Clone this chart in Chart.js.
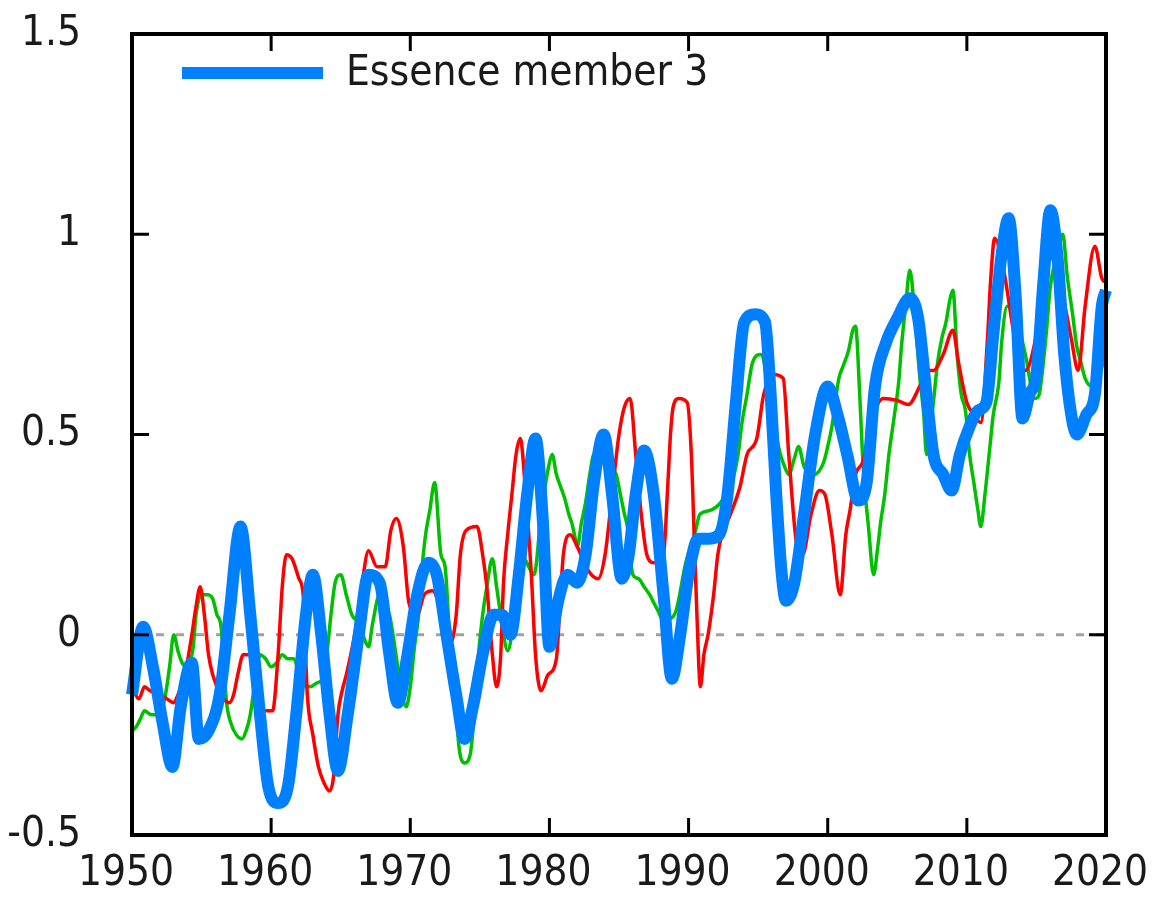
<!DOCTYPE html>
<html>
<head>
<meta charset="utf-8">
<script src="https://cdn.jsdelivr.net/npm/chart.js@4/dist/chart.umd.min.js"></script>
<style>
  html, body { margin: 0; padding: 0; background: #fff; }
  canvas { display: block; }
</style>
</head>
<body>
<canvas id="myChart" width="1158" height="907"></canvas>
<script>
// values (year, anomaly)
var blueLabel = 'Essence member 3';
var blueYears = [1950.0,1950.8,1951.5,1952.2,1952.9,1953.5,1954.3,1954.8,1955.5,1956.3,1957.0,1957.8,1958.5,1959.2,1959.8,1960.5,1961.2,1961.8,1962.5,1963.0,
  1963.6,1964.2,1964.8,1965.5,1966.3,1967.0,1967.8,1968.5,1969.1,1969.8,1970.5,1971.3,1971.9,1972.6,1973.3,1973.9,1974.5,1975.2,1976.0,1976.6,
  1977.2,1977.8,1978.4,1979.0,1979.5,1980.0,1980.6,1981.3,1982.0,1982.6,1983.2,1983.9,1984.5,1985.2,1985.7,1986.2,1986.8,1987.5,1988.2,1988.8,
  1989.4,1990.0,1990.7,1991.5,1992.2,1992.8,1993.4,1994.0,1994.8,1995.5,1995.9,1996.3,1996.7,1997.0,1997.6,1998.3,1999.1,2000.0,2000.7,2001.4,
  2002.2,2002.8,2003.4,2004.2,2005.0,2005.9,2006.5,2007.1,2007.6,2008.3,2008.9,2009.5,2010.2,2010.8,2011.4,2011.9,2012.5,2013.0,2013.5,2014.0,
  2014.5,2015.0,2015.5,2016.0,2016.5,2017.0,2017.5,2017.9,2018.6,2019.2,2019.7,2020.0];
var blueValues = [-0.15,0.02,-0.08,-0.22,-0.33,-0.18,-0.07,-0.26,-0.24,-0.15,0.05,0.27,0.05,-0.2,-0.38,-0.42,-0.38,-0.2,0.05,0.15,
  0.0,-0.2,-0.34,-0.2,0.0,0.15,0.13,-0.05,-0.17,-0.05,0.1,0.18,0.15,0.0,-0.15,-0.26,-0.18,-0.05,0.05,0.05,
  0.0,0.15,0.35,0.49,0.3,-0.03,0.08,0.15,0.13,0.2,0.38,0.5,0.35,0.14,0.2,0.35,0.46,0.35,0.1,-0.11,
  0.0,0.15,0.24,0.24,0.25,0.35,0.58,0.78,0.8,0.78,0.6,0.35,0.15,0.085,0.13,0.3,0.5,0.62,0.55,0.45,
  0.335,0.38,0.62,0.73,0.79,0.84,0.79,0.6,0.45,0.4,0.36,0.45,0.52,0.56,0.58,0.75,0.95,1.04,0.85,0.54,
  0.6,0.65,0.88,1.06,0.95,0.7,0.55,0.5,0.55,0.6,0.82,0.86];

var redYears = [1950.0,1950.5,1950.9,1951.3,1952.0,1952.5,1953.0,1953.3,1953.8,1954.3,1954.6,1954.9,1955.2,1955.5,1955.8,1956.4,1957.0,1957.3,1957.6,1958.0,
  1958.5,1959.0,1959.5,1960.1,1960.5,1960.8,1961.1,1961.5,1962.0,1962.3,1962.6,1963.0,1963.4,1963.8,1964.2,1964.5,1964.8,1965.1,1965.4,1966.0,
  1966.5,1967.0,1967.6,1968.2,1968.6,1969.0,1969.5,1969.9,1970.5,1971.0,1971.6,1972.3,1972.9,1973.3,1973.6,1974.0,1974.8,1975.2,1975.5,1975.9,
  1976.2,1976.5,1976.7,1977.0,1977.3,1977.6,1977.9,1978.3,1978.7,1979.0,1979.4,1979.9,1980.5,1980.8,1981.0,1981.5,1982.0,1982.8,1983.5,1984.0,
  1984.5,1985.0,1985.4,1985.8,1986.2,1986.6,1987.0,1987.5,1988.2,1988.5,1988.7,1988.9,1989.3,1989.9,1990.2,1990.4,1990.6,1990.85,1991.1,1991.4,
  1991.8,1992.1,1992.4,1993.0,1993.7,1994.2,1994.9,1995.4,1996.1,1996.8,1997.2,1997.8,1998.2,1998.8,1999.4,1999.8,2000.3,2000.9,2001.3,2001.6,
  2002.0,2002.5,2003.3,2004.0,2005.0,2005.8,2006.6,2007.1,2007.6,2008.3,2009.0,2009.4,2010.0,2010.5,2011.0,2011.5,2011.7,2012.0,2012.7,2013.4,
  2014.2,2015.0,2015.8,2016.4,2017.0,2017.5,2018.0,2018.5,2019.2,2019.7,2020.0];
var redValues = [-0.13,-0.16,-0.13,-0.14,-0.15,-0.16,-0.17,-0.15,-0.1,0.0,0.07,0.12,0.05,-0.05,-0.1,-0.15,-0.17,-0.15,-0.1,-0.05,
  -0.05,-0.12,-0.19,-0.19,-0.05,0.12,0.2,0.19,0.14,0.1,-0.15,-0.25,-0.33,-0.37,-0.39,-0.35,-0.2,-0.14,-0.1,0.0,
  0.12,0.21,0.17,0.17,0.26,0.29,0.22,0.08,0.05,0.1,0.11,0.05,-0.02,0.05,0.2,0.26,0.27,0.2,0.12,-0.05,
  -0.13,-0.05,0.13,0.25,0.35,0.45,0.49,0.35,0.15,-0.05,-0.14,-0.1,-0.06,0.1,0.2,0.25,0.22,0.16,0.14,0.2,
  0.35,0.5,0.57,0.59,0.45,0.3,0.2,0.18,0.2,0.37,0.5,0.57,0.59,0.58,0.45,0.25,0.05,-0.13,-0.05,0.0,
  0.1,0.2,0.25,0.3,0.37,0.45,0.49,0.6,0.65,0.64,0.45,0.22,0.2,0.3,0.36,0.35,0.25,0.1,0.25,0.31,
  0.4,0.43,0.55,0.59,0.585,0.575,0.62,0.66,0.66,0.7,0.76,0.68,0.58,0.55,0.53,0.75,0.88,0.99,0.9,0.75,
  0.66,0.75,0.95,0.92,0.83,0.74,0.66,0.82,0.97,0.89,0.88];

var greenYears = [1950.0,1950.3,1950.6,1950.9,1951.4,1952.0,1952.4,1952.7,1953.0,1953.3,1953.6,1954.0,1954.4,1954.6,1955.0,1955.4,1955.8,1956.1,1956.4,1956.8,
  1957.1,1957.5,1957.9,1958.2,1958.5,1958.9,1959.2,1959.6,1960.0,1960.4,1960.8,1961.2,1961.6,1962.2,1962.8,1963.3,1963.7,1964.0,1964.3,1964.6,
  1965.0,1965.4,1965.8,1966.3,1966.7,1967.0,1967.3,1967.8,1968.5,1969.2,1969.7,1970.0,1970.3,1970.6,1970.8,1971.1,1971.4,1971.75,1972.2,1972.5,
  1972.9,1973.2,1973.5,1973.9,1974.3,1974.6,1974.9,1975.2,1975.5,1975.9,1976.2,1976.5,1977.0,1977.5,1978.2,1978.5,1978.9,1979.4,1980.0,1980.2,
  1980.5,1980.8,1981.1,1981.4,1981.6,1981.8,1982.0,1982.3,1982.6,1982.9,1983.2,1983.8,1984.4,1984.8,1985.1,1985.4,1985.6,1986.0,1986.4,1986.8,
  1987.2,1987.5,1987.8,1988.1,1988.6,1989.1,1989.8,1990.5,1990.8,1991.5,1992.3,1993.1,1993.4,1993.6,1993.8,1994.2,1994.6,1995.2,1995.7,1996.0,
  1996.3,1996.6,1996.9,1997.2,1997.6,1997.9,1998.3,1999.0,1999.7,2000.0,2000.3,2000.8,2001.1,2001.5,2001.8,2002.0,2002.3,2002.5,2002.7,2002.9,
  2003.3,2003.6,2003.8,2004.1,2004.4,2004.8,2005.1,2005.3,2005.6,2005.9,2006.3,2006.6,2006.9,2007.1,2007.5,2007.9,2008.2,2008.5,2008.8,2009.0,
  2009.3,2009.6,2009.9,2010.2,2010.5,2010.8,2011.0,2011.3,2011.6,2011.9,2012.3,2012.5,2012.9,2013.5,2014.2,2014.9,2015.2,2015.4,2015.7,2016.0,
  2016.5,2016.9,2017.2,2017.6,2017.9,2018.2,2018.5,2019.0,2019.5,2020.0];
var greenValues = [-0.24,-0.23,-0.21,-0.19,-0.2,-0.2,-0.15,-0.08,0.0,-0.04,-0.07,-0.08,-0.03,0.05,0.1,0.1,0.09,0.05,0.02,-0.17,
  -0.22,-0.25,-0.26,-0.24,-0.2,-0.1,-0.05,-0.06,-0.08,-0.07,-0.05,-0.06,-0.06,-0.12,-0.13,-0.12,-0.11,-0.05,0.05,0.13,
  0.15,0.1,0.05,0.03,-0.01,-0.03,0.03,0.1,0.05,-0.1,-0.18,-0.13,-0.03,0.05,0.15,0.25,0.31,0.38,0.2,0.17,
  -0.05,-0.14,-0.28,-0.32,-0.3,-0.2,-0.05,0.05,0.12,0.19,0.12,0.05,-0.04,0.05,0.19,0.17,0.15,0.3,0.43,0.45,
  0.4,0.37,0.34,0.3,0.28,0.25,0.22,0.28,0.33,0.4,0.45,0.45,0.42,0.4,0.35,0.3,0.27,0.15,0.14,0.12,
  0.1,0.08,0.06,0.04,0.04,0.06,0.18,0.26,0.3,0.31,0.33,0.38,0.42,0.46,0.52,0.6,0.68,0.7,0.63,0.57,
  0.5,0.45,0.42,0.4,0.44,0.47,0.42,0.4,0.43,0.47,0.52,0.64,0.67,0.71,0.76,0.77,0.6,0.45,0.35,0.28,
  0.15,0.22,0.28,0.35,0.45,0.55,0.63,0.72,0.82,0.91,0.78,0.65,0.55,0.45,0.55,0.68,0.74,0.78,0.84,0.86,
  0.7,0.6,0.56,0.45,0.38,0.31,0.27,0.35,0.45,0.55,0.63,0.73,0.82,0.8,0.7,0.59,0.6,0.65,0.75,0.87,
  0.95,1.0,0.9,0.8,0.72,0.68,0.64,0.62,0.65,0.7];

var xTicks = [1950, 1960, 1970, 1980, 1990, 2000, 2010, 2020];
var yTicks = [-0.5, 0, 0.5, 1, 1.5];

var blueColor = '#0080ff';
var redColor = '#ff0000';
var greenColor = '#00c000';
var textColor = '#1a1a1a';
var fontFamily = "'Liberation Sans Narrow', 'DejaVu Sans Condensed', 'Liberation Sans', sans-serif";

function pairs(xs, ys) {
  return xs.map(function (x, i) { return { x: x, y: ys[i] }; });
}

// zero line, frame with inward ticks and the one-entry key
var framePlugin = {
  id: 'frame',
  beforeDatasetsDraw: function (chart) {
    var ctx = chart.ctx, a = chart.chartArea;
    var y0 = chart.scales.y.getPixelForValue(0);
    ctx.save();
    ctx.strokeStyle = '#a0a0a0';
    ctx.lineWidth = 3;
    ctx.setLineDash([8, 12]);
    ctx.beginPath();
    ctx.moveTo(a.left + 4, y0);
    ctx.lineTo(a.right, y0);
    ctx.stroke();
    ctx.restore();
  },
  afterDatasetsDraw: function (chart) {
    var ctx = chart.ctx, a = chart.chartArea;
    var xs = chart.scales.x, ys = chart.scales.y;
    ctx.save();
    ctx.strokeStyle = '#000';
    ctx.lineWidth = 3;
    ctx.beginPath();
    xTicks.forEach(function (v) {
      var px = xs.getPixelForValue(v);
      ctx.moveTo(px, a.bottom); ctx.lineTo(px, a.bottom - 17);
      ctx.moveTo(px, a.top); ctx.lineTo(px, a.top + 17);
    });
    yTicks.forEach(function (v) {
      var py = ys.getPixelForValue(v);
      ctx.moveTo(a.left, py); ctx.lineTo(a.left + 17, py);
      ctx.moveTo(a.right, py); ctx.lineTo(a.right - 17, py);
    });
    ctx.stroke();
    ctx.lineWidth = 4;
    ctx.strokeRect(a.left, a.top, a.right - a.left, a.bottom - a.top);

    // key
    var ds = chart.data.datasets[0];
    ctx.strokeStyle = ds.borderColor;
    ctx.lineWidth = 12;
    ctx.beginPath();
    ctx.moveTo(a.left + 50, a.top + 39);
    ctx.lineTo(a.left + 191, a.top + 39);
    ctx.stroke();
    ctx.fillStyle = textColor;
    ctx.font = '42px ' + fontFamily;
    ctx.textBaseline = 'middle';
    ctx.textAlign = 'left';
    ctx.fillText(ds.label, a.left + 214, a.top + 40);
    ctx.restore();
  }
};

var ctx = document.getElementById('myChart').getContext('2d');
var myChart = new Chart(ctx, {
  type: 'line',
  data: {
    datasets: [
      { label: blueLabel, data: pairs(blueYears, blueValues), borderColor: blueColor, borderWidth: 12, order: 0 },
      { label: 'red', data: pairs(redYears, redValues), borderColor: redColor, borderWidth: 3.5, order: 1 },
      { label: 'green', data: pairs(greenYears, greenValues), borderColor: greenColor, borderWidth: 3.5, order: 2 }
    ]
  },
  options: {
    responsive: false,
    devicePixelRatio: 1,
    animation: false,
    clip: false,
    elements: {
      point: { radius: 0 },
      line: { cubicInterpolationMode: 'monotone', fill: false, borderJoinStyle: 'miter' }
    },
    layout: { padding: { top: 34, right: 52, left: 0, bottom: 0 } },
    plugins: { legend: { display: false }, tooltip: { enabled: false } },
    scales: {
      x: {
        type: 'linear',
        min: 1950,
        max: 2020,
        grid: { display: false },
        border: { display: false },
        afterFit: function (s) { s.height = 72; s.paddingLeft = 0; s.paddingRight = 0; },
        afterBuildTicks: function (s) { s.ticks = xTicks.map(function (v) { return { value: v }; }); },
        ticks: {
          color: textColor,
          padding: 6,
          labelOffset: -6,
          maxRotation: 0,
          autoSkip: false,
          font: { family: fontFamily, size: 42, lineHeight: 1.2 },
          callback: function (v) { return String(v); }
        }
      },
      y: {
        min: -0.5,
        max: 1.5,
        grid: { display: false },
        border: { display: false },
        afterFit: function (s) { s.width = 132; s.paddingTop = 0; s.paddingBottom = 0; },
        afterBuildTicks: function (s) { s.ticks = yTicks.map(function (v) { return { value: v }; }); },
        ticks: {
          color: textColor,
          padding: 43,
          font: { family: fontFamily, size: 42, lineHeight: 1.2 },
          callback: function (v) { return String(v); }
        }
      }
    }
  },
  plugins: [framePlugin]
});
</script>
</body>
</html>
